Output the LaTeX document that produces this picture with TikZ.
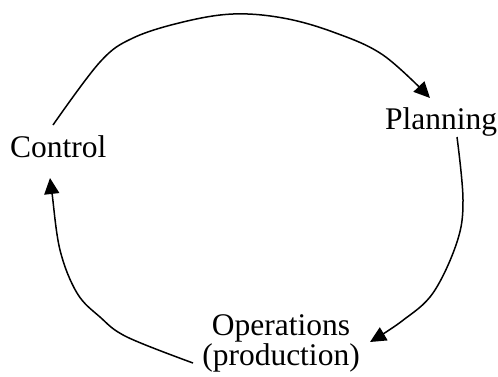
\documentclass[tikz,border=0pt]{standalone}
\usepackage{fontspec}
\setmainfont{Liberation Serif}
\usetikzlibrary{arrows.meta}
\begin{document}
\begin{tikzpicture}[x=1pt,y=-1pt,
  lbl/.style={inner sep=0pt,font=\fontsize{31.5}{30}\selectfont},
  flow/.style={line width=1.5pt,-{Triangle[length=16pt,width=15pt]}}]
\useasboundingbox (0,0) rectangle (498,376);
\node[lbl,anchor=base west] (control) at (10,157) {Control};
\node[lbl,anchor=base west] (planning) at (385,129) {Planning};
\node[lbl,anchor=base,align=center] (ops) at (281,365) {Operations\\(production)};
\coordinate (c1) at (53,125);
\coordinate (p1) at (430,98);
\coordinate (p2) at (457,137);
\coordinate (o1) at (370,342);
\coordinate (o2) at (193,363);
\coordinate (c2) at (50,178);
\draw[flow] plot[smooth,tension=0.6] coordinates {(c1) (100,62) (133,38) (183,22) (233,14) (283,18) (333,32) (383,55) (p1)};
\draw[flow] plot[smooth,tension=0.6] coordinates {(p2) (463,200) (457,242) (433,293) (402,321) (o1)};
\draw[flow] plot[smooth,tension=0.6] coordinates {(o2) (127,337) (100,317) (77,293) (60,250) (52,193) (c2)};
\end{tikzpicture}
\end{document}
